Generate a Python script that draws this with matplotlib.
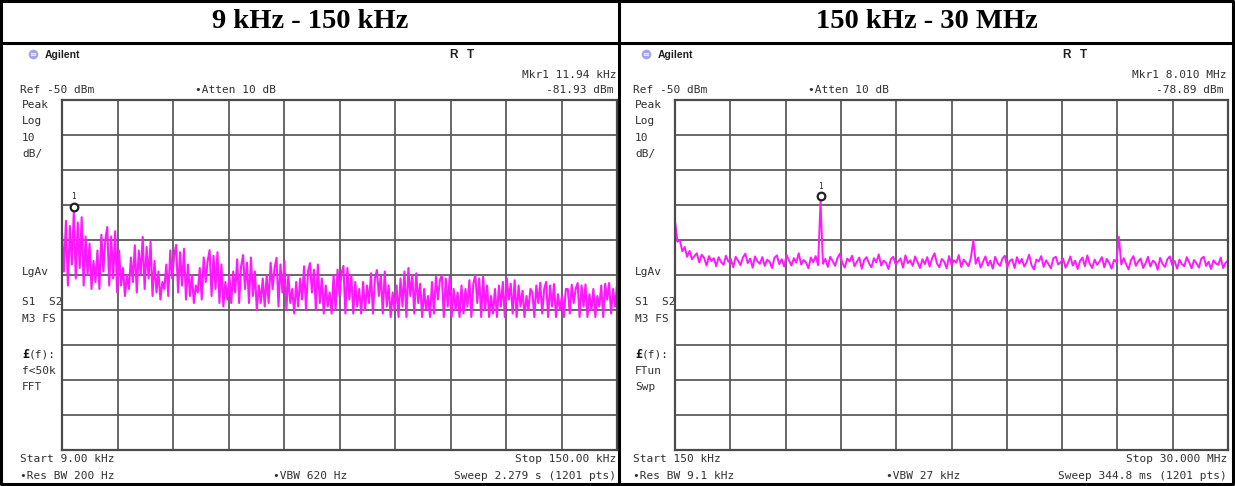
import numpy as np
import matplotlib.pyplot as plt
from matplotlib.transforms import offset_copy

W, H = 1235, 486

# 9 kHz - 150 kHz sweep, one reading every 0.5 kHz (dBm)
lf_start_khz, lf_stop_khz = 9.0, 150.0
lf_level_dbm = [
    # 9.0 - 16.0
    -88, -99, -84.5, -103, -86, -97, -81.93, -101, -85, -98, -83.5, -103, -89, -100, -91,
    # 16.5 - 17.5
    -104, -96, -102,
    # 18.0 - 23.5
    -93, -104, -88.5, -99, -90, -86.3, -103, -89, -101, -87.5, -105, -93,
    # 24.0 - 26.0
    -103, -98, -106, -100, -104,
    # 26.5 - 32.5
    -95, -102, -91.5, -105, -93, -100, -89.1, -104, -92, -101, -90.5, -106, -96,
    # 33.0 - 35.0
    -105, -99, -107, -102, -104,
    # 35.5 - 41.0
    -97, -106, -93, -101, -94.5, -91.4, -105, -93.5, -103, -92.5, -107, -97,
    # 41.5 - 43.5
    -106, -100, -108, -103, -105,
    # 44.0 - 50.0
    -98, -107, -95, -102, -96, -92.9, -106, -94.5, -104, -93.5, -108, -97, -109,
    # 50.5 - 52.0
    -102, -107, -100, -108,
    # 52.5 - 58.5
    -99, -105, -95.5, -108, -97.5, -94.3, -104, -96.5, -108, -95, -106, -99, -110,
    # 59.0 - 60.5
    -103, -108, -101, -109,
    # 61.0 - 67.0
    -100, -108, -96.5, -104, -98, -95.1, -109, -97, -105, -96, -110, -100, -108,
    # 67.5 - 69.0
    -104, -111, -102, -109,
    # 69.5 - 75.5
    -101, -107, -97.5, -110, -99, -96.6, -105, -98.5, -110, -97, -108, -101, -111,
    # 76.0 - 77.5
    -103, -109, -105, -111,
    # 78.0 - 84.0
    -100, -110, -98.5, -106, -99.5, -97.4, -111, -98, -107, -100, -111, -102, -109,
    # 84.5 - 86.0
    -104, -111, -102, -110,
    # 86.5 - 92.5
    -103, -108, -99.5, -111, -101, -98.6, -106, -100, -111, -99, -109, -103, -112,
    # 93.0 - 94.5
    -105, -110, -103, -112,
    # 95.0 - 100.5
    -101, -109, -99, -112, -98, -106, -100, -111, -99.5, -108, -102.5, -112,
    # 101.0 - 102.5
    -104, -110, -106, -112,
    # 103.0 - 108.5
    -102, -111, -100.5, -107, -101.5, -100, -112, -101, -109, -100.5, -112, -104,
    # 109.0 - 111.0
    -110, -105, -112, -103, -111,
    # 111.5 - 117.5
    -104, -109, -101.5, -112, -102.5, -100, -108, -101, -112, -100.5, -110, -103, -112,
    # 118.0 - 119.5
    -106, -111, -104, -112,
    # 120.0 - 126.0
    -103, -109, -102, -112, -100.9, -107, -102.5, -111, -101.5, -112, -103, -109, -104.5,
    # 126.5 - 128.0
    -112, -106, -110, -104,
    # 128.5 - 135.0
    -105, -112, -103, -108, -102.2, -111, -104, -102, -112, -103, -109, -102.6, -112, -105.5,
    # 135.5 - 137.0
    -110, -106, -112, -104,
    # 137.5 - 143.0
    -104, -111, -102.8, -108, -104, -102.3, -112, -103, -109, -102.7, -112, -105.5,
    # 143.5 - 145.0
    -110, -104, -112, -106,
    # 145.5 - 150.0
    -109, -103, -112, -102.5, -107, -102.3, -111, -104, -109, -103,
]
lf_marker_khz, lf_marker_dbm = 11.94, -81.93

# 150 kHz - 30 MHz sweep (dBm)
rf_start_mhz, rf_stop_mhz = 0.15, 30.0
rf_level_dbm = [
    -84.5, -90.5, -90.0, -93.2, -92.0, -94.8, -93.1, -95.5, -94.6, -93.8,
    -96.4, -94.2, -95.1, -97.3, -94.6, -96.0, -95.2, -97.5, -94.9, -96.3,
    -97.1, -94.5, -96.2, -95.4, -97.8, -94.8, -95.9, -97.2, -95.0, -93.9,
    -96.6, -95.3, -97.9, -94.7, -96.1, -96.8, -94.9, -97.4, -95.6, -96.2,
    -98.0, -95.1, -94.4, -96.9, -95.5, -97.6, -94.3, -95.8, -97.3, -95.2,
    -96.5, -93.8, -97.0, -95.7, -96.4, -98.1, -95.0, -96.3, -94.6, -97.2,
    -78.89, -96.8, -95.4, -97.7, -94.8, -96.0, -97.4, -95.1, -93.9, -96.6,
    -97.9, -95.3, -96.1, -94.5, -97.5, -96.2, -95.0, -98.2, -95.7, -94.9,
    -96.7, -97.8, -95.2, -96.4, -94.1, -97.3, -95.9, -96.5, -98.3, -95.4,
    -94.8, -97.0, -96.1, -95.3, -97.9, -94.4, -96.6, -95.8, -97.4, -94.7,
    -96.3, -98.0, -95.5, -96.9, -94.9, -97.6, -95.2, -93.8, -96.7, -97.8,
    -95.4, -96.2, -98.1, -94.6, -97.1, -95.8, -96.5, -94.3, -97.7, -95.6,
    -96.4, -97.5, -95.1, -90.0, -96.8, -95.0, -97.9, -96.2, -94.7, -97.3,
    -95.9, -98.2, -94.8, -96.6, -97.4, -95.3, -94.5, -97.8, -96.0, -95.5,
    -98.0, -94.9, -96.7, -95.4, -97.6, -96.3, -94.2, -97.2, -98.4, -95.6,
    -96.1, -94.6, -97.7, -95.8, -96.9, -98.1, -95.2, -94.8, -97.0, -96.4,
    -95.3, -97.9, -96.6, -94.7, -97.3, -95.9, -98.3, -96.0, -95.0, -97.5,
    -94.4, -96.8, -98.0, -95.6, -97.1, -96.2, -94.9, -97.8, -95.4, -96.5,
    -98.2, -95.7, -96.3, -89.1, -97.0, -95.2, -96.9, -98.4, -95.8, -94.6,
    -97.4, -96.1, -95.3, -98.0, -96.7, -94.8, -97.6, -95.9, -96.4, -98.5,
    -95.1, -96.8, -97.7, -95.5, -94.7, -97.2, -96.0, -98.2, -95.6, -96.9,
    -97.5, -94.9, -96.4, -98.1, -95.7, -96.6, -97.9, -95.3, -94.8, -97.4,
    -96.2, -98.3, -95.8, -96.7, -97.1, -95.0, -98.0, -96.5, -95.9,
]
rf_marker_mhz, rf_marker_dbm = 8.010, -78.89

ref_level_dbm = -50
db_per_div = 10

panel_titles = ["9 kHz - 150 kHz", "150 kHz - 30 MHz"]
top_left = ["Ref -50 dBm", "Ref -50 dBm"]
atten = ["•Atten 10 dB", "•Atten 10 dB"]
mkr_lines = [["Mkr1 11.94 kHz", "-81.93 dBm"], ["Mkr1 8.010 MHz", "-78.89 dBm"]]
side_labels = [
    [("Peak", 105), ("Log", 121), ("10", 138), ("dB/", 154), ("LgAv", 272),
     ("S1  S2", 302), ("M3 FS", 319), ("£(f):", 354), ("f<50k", 371), ("FFT", 387)],
    [("Peak", 105), ("Log", 121), ("10", 138), ("dB/", 154), ("LgAv", 272),
     ("S1  S2", 302), ("M3 FS", 319), ("£(f):", 354), ("FTun", 371), ("Swp", 387)],
]
start_stop = [["Start 9.00 kHz", "Stop 150.00 kHz"], ["Start 150 kHz", "Stop 30.000 MHz"]]
bottom_row = [["•Res BW 200 Hz", "•VBW 620 Hz", "Sweep 2.279 s (1201 pts)"],
              ["•Res BW 9.1 kHz", "•VBW 27 kHz", "Sweep 344.8 ms (1201 pts)"]]

MONO = "DejaVu Sans Mono"
TXT = "#303030"
TRACE = "#ff19ff"

fig = plt.figure(figsize=(W / 100, H / 100), dpi=100)
fig.patch.set_facecolor("white")

# pixel-space overlay for frame lines and annotation text
ov = fig.add_axes([0, 0, 1, 1])
ov.set_xlim(0, W)
ov.set_ylim(H, 0)
ov.axis("off")


def px_axes(x0, y0, x1, y1):
    return fig.add_axes([x0 / W, 1 - y1 / H, (x1 - x0) / W, (y1 - y0) / H])


def t(x, y, s, ha="left", **kw):
    kw.setdefault("family", MONO)
    kw.setdefault("fontsize", 8)
    kw.setdefault("color", TXT)
    ov.text(x, y, s, ha=ha, va="center", **kw)


# table frame
lw_frame = 2.2
ov.plot([1, W - 2, W - 2, 1, 1], [1, 1, H - 2, H - 2, 1], color="black", lw=lw_frame)
ov.plot([0, W], [43, 43], color="black", lw=lw_frame)
ov.plot([619, 619], [0, H], color="black", lw=lw_frame)

grids = [(62, 100, 617, 450), (675, 100, 1228, 450)]
sweeps = [
    (lf_start_khz, lf_stop_khz, lf_level_dbm, lf_marker_khz, lf_marker_dbm, 1.5),
    (rf_start_mhz, rf_stop_mhz, rf_level_dbm, rf_marker_mhz, rf_marker_dbm, 1.4),
]

for k in range(2):
    dx = 0 if k == 0 else 613
    gx0, gy0, gx1, gy1 = grids[k]
    start, stop, levels, mk_f, mk_l, trace_lw = sweeps[k]

    # column heading
    ov.text(310 + k * 617, 22, panel_titles[k], ha="center", va="center",
            family="Liberation Serif", weight="bold", fontsize=20.5, color="black")

    # instrument banner
    ov.plot(33 + dx, 54, marker="o", ms=7, color="#a4a4ee", mec="none")
    ov.text(33 + dx, 54, "≡", ha="center", va="center", fontsize=6, color="white")
    ov.text(45 + dx, 55, "Agilent", ha="left", va="center", family="Liberation Sans",
            weight="bold", fontsize=7.5, color="#202020")
    ov.text(449 + dx, 55, "R", ha="left", va="center", family="Liberation Sans",
            weight="bold", fontsize=8.5, color="#202020")
    ov.text(467 + dx, 55, "T", ha="left", va="center", family="Liberation Sans",
            weight="bold", fontsize=8.5, color="#202020")

    t(gx1 - 1, 75, mkr_lines[k][0], ha="right")
    t(gx1 - 4, 90, mkr_lines[k][1], ha="right")
    t(20 + dx, 90, top_left[k])
    t(195 + dx, 90, atten[k])
    for label, y in side_labels[k]:
        if label.startswith("£"):
            ov.text(22 + dx, y, "£", ha="left", va="center", family=MONO,
                    weight="bold", fontsize=8.5, color="#151515")
            t(29 + dx, y, label[1:])
        else:
            t(22 + dx, y, label)
    t(20 + dx, 459, start_stop[k][0])
    t(gx1 - 1, 459, start_stop[k][1], ha="right")
    t(20 + dx, 476, bottom_row[k][0])
    t(273 + dx, 476, bottom_row[k][1])
    t(gx1 - 1, 476, bottom_row[k][2], ha="right")

    # analyzer graticule: 10 x 10 divisions
    ax = px_axes(gx0, gy0, gx1, gy1)
    ax.set_facecolor("white")
    ax.set_xlim(start, stop)
    ax.set_ylim(ref_level_dbm - 10 * db_per_div, ref_level_dbm)
    ax.set_xticks(np.linspace(start, stop, 11))
    ax.set_yticks(np.arange(ref_level_dbm - 10 * db_per_div, ref_level_dbm + 1, db_per_div))
    ax.grid(True, color="#5c5c5c", lw=1.3)
    ax.tick_params(length=0, labelbottom=False, labelleft=False)
    for s in ax.spines.values():
        s.set_color("#4a4a4a")
        s.set_linewidth(1.6)

    freqs = np.linspace(start, stop, len(levels))
    ax.plot(freqs, levels, color=TRACE, lw=trace_lw, clip_on=True)

    # marker 1
    mk_tr = offset_copy(ax.transData, fig=fig, y=5, units="dots")
    ax.plot([mk_f], [mk_l], marker="o", ms=5.5, mfc="white", mec="#222222",
            mew=1.6, transform=mk_tr, clip_on=False)
    ax.annotate("1", (mk_f, mk_l), xytext=(0, 15), textcoords="offset pixels",
                ha="center", va="center", fontsize=5.5, family=MONO, color="#222222")

fig.savefig("out.png", dpi=100)
